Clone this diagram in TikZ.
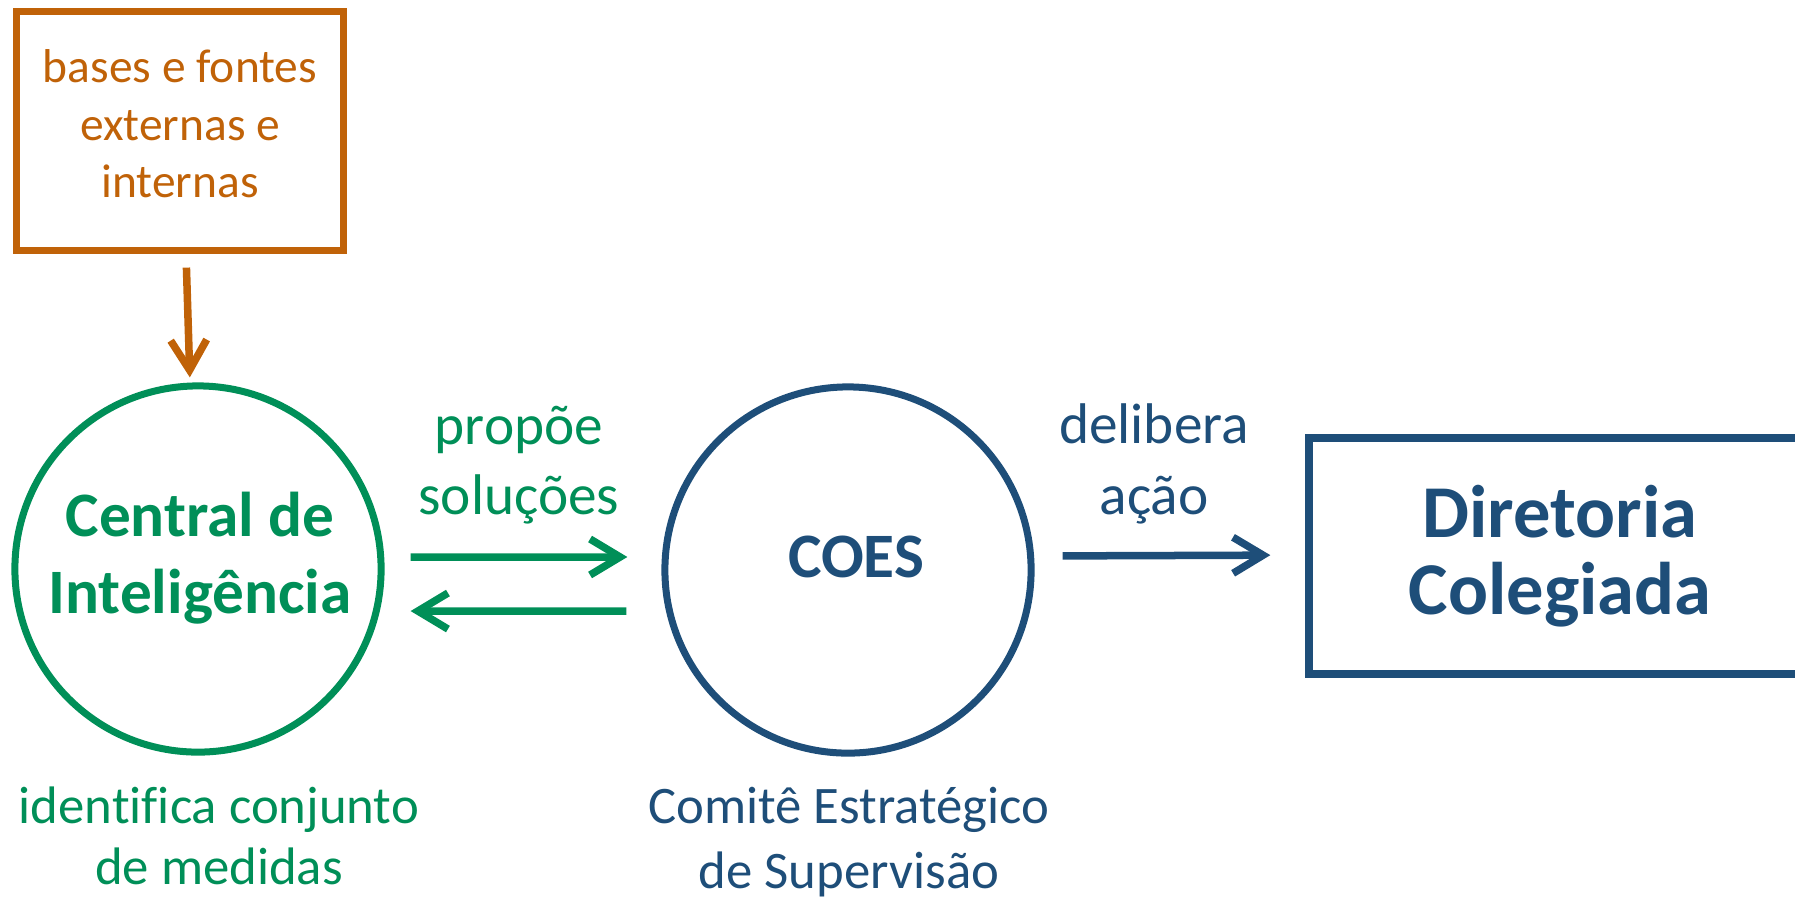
\documentclass[tikz,border=0pt]{standalone}
\usepackage{fontspec}
\setmainfont{Carlito}[Ligatures=NoCommon]
\usetikzlibrary{arrows.meta}
\definecolor{ocre}{RGB}{192,98,8}
\definecolor{verde}{RGB}{0,143,88}
\definecolor{azul}{RGB}{30,78,121}
\tikzset{
  roda/.style={circle, draw, line width=0.7mm, minimum size=3.66cm, inner sep=0pt},
  caixa/.style={rectangle, draw, line width=0.8mm, inner sep=0pt, align=center},
  seta/.style={line width=0.75mm, -{Straight Barb[length=3mm,width=3.6mm]}},
  rotulo/.style={align=center, inner sep=0pt},
}
\def\tam#1#2{\fontsize{#1}{#2}\selectfont}

\begin{document}
\begin{tikzpicture}[x=0.01cm, y=-0.01cm]
			%%%%% START %%%%%
			\useasboundingbox (0,0) rectangle (1795,896);
			\clip (0,0) rectangle (1795,896);
			
			\node[caixa, draw=ocre, line width=0.7mm, minimum width=3.26cm, minimum height=2.38cm] (bases) at (180,131) {};
			\node[rotulo, text=ocre, font=\tam{13.5}{16.4}] (basesTxt) at (180,124) {bases e fontes\\externas e\\internas};
			
			\node[roda, draw=verde] (central) at (198,569) {};
			\node[roda, draw=azul] (coes) at (848,570) {};
			\node[caixa, draw=azul, text=azul, font=\bfseries\tam{21.2}{22}, minimum width=5.01cm, minimum height=2.36cm] (diretoria) at (1560,556) {Diretoria\\Colegiada};
			
			\node[rotulo, text=verde, font=\bfseries\tam{18}{22}] (centralTxt) at (200,558) {Central de\\Inteligência};
			\node[rotulo, text=azul, font=\bfseries\tam{18}{22}] (coesTxt) at (856,557) {COES};
			
			\node[rotulo, text=verde, font=\tam{16.3}{20}] (propoe) at (519,465) {propõe\\soluções};
			\node[rotulo, text=azul, font=\tam{16.3}{20}] (delibera) at (1154,464) {delibera\\ação};
			\node[rotulo, text=verde, font=\tam{15}{17.3}] (identifica) at (219,836) {identifica conjunto\\de medidas};
			\node[rotulo, text=azul, font=\tam{15}{18.5}] (comite) at (849,842) {Comitê Estratégico\\de Supervisão};
			
			\draw[seta, draw=ocre, shorten <=1.4mm, shorten >=0.5mm] ([xshift=0.6mm]bases.south) -- ([xshift=-0.8mm]central.north);
			
			\draw[seta, draw=verde, shorten <=2.6mm, shorten >=3.4mm] ([yshift=1.2mm]central.east) -- ([yshift=1.3mm]coes.west);
			\draw[seta, draw=verde, shorten <=3.5mm, shorten >=2.6mm] ([yshift=-4.1mm]coes.west) -- ([yshift=-4.2mm]central.east);
			\draw[seta, draw=azul, shorten <=2.8mm, shorten >=3.5mm] ([yshift=1.4mm]coes.east) -- ([yshift=0.1mm]diretoria.west);
			
			%%%%% END %%%%%
\end{tikzpicture}
\end{document}
